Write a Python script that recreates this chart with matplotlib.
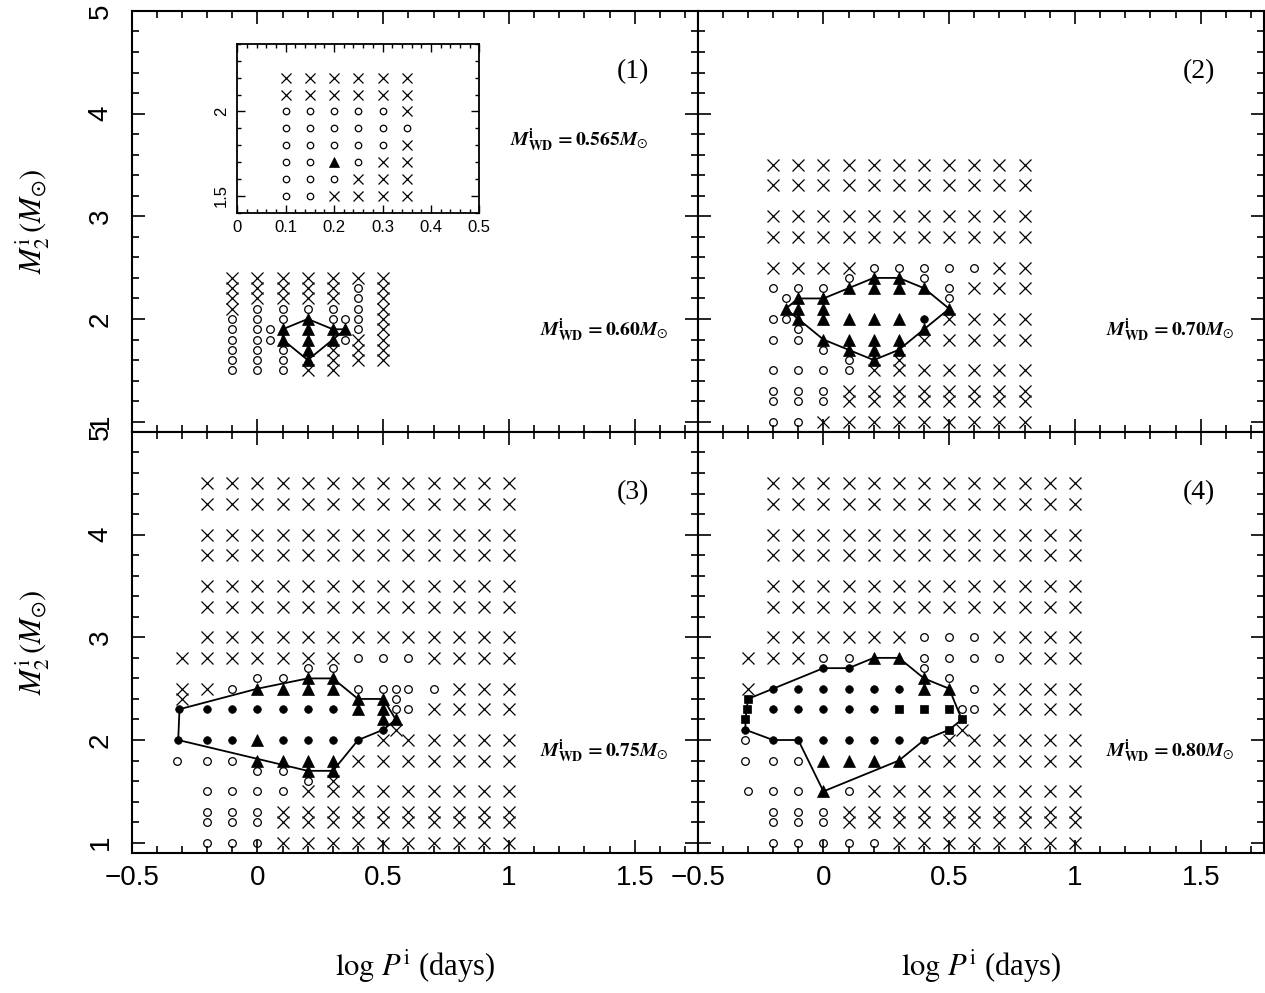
"""Import Statements"""
import matplotlib.pyplot as plt
from matplotlib.ticker import MultipleLocator, FuncFormatter

plt.rcParams["font.family"] = "Liberation Sans"
plt.rcParams["mathtext.fontset"] = "stix"

# Grid codes: x = cross, o = open circle, t = filled triangle,
# d = filled circle, s = filled square, . = no run.
P1_COLS = [-0.1, 0.0, 0.1, 0.2, 0.3, 0.4, 0.5]
P1_ROWS = [(2.4, "xxxxxxx"), (2.3, "xxxxxox"), (2.2, "xxxxxox"),
           (2.1, "xooooox"), (2.0, "oootoox"), (1.9, "ootttox"),
           (1.8, "ootttxx"), (1.7, "oootxxx"), (1.6, "oootxxx"),
           (1.5, "oooxx..")]
P1_EXTRA = [(0.05, 1.9, "o"), (0.05, 1.8, "o"), (0.35, 2.0, "o"),
            (0.35, 1.9, "t"), (0.35, 1.8, "o")]
P1_EDGE = [(0.1, 1.9), (0.2, 2.0), (0.3, 1.9), (0.35, 1.9), (0.3, 1.8),
           (0.2, 1.6), (0.1, 1.8), (0.1, 1.9)]

P2_COLS = [-0.2, -0.1, 0.0, 0.1, 0.2, 0.3, 0.4, 0.5, 0.6, 0.7, 0.8]
P2_ROWS = [(3.5, "xxxxxxxxxxx"), (3.3, "xxxxxxxxxxx"), (3.0, "xxxxxxxxxxx"),
           (2.8, "xxxxxxxxxxx"), (2.5, "xxxxoooooxx"), (2.3, "ooottttoxxx"),
           (2.0, "otttttdxxxx"), (1.8, "oottttxxxxx"), (1.5, "ooooxxxxxxx"),
           (1.3, "oooxxxxxxxx"), (1.2, "oooxxxxxxxx"), (1.0, "ooxxxxxxxxx")]
P2_EXTRA = [(0.1, 2.4, "o"), (0.2, 2.4, "t"), (0.3, 2.4, "t"),
            (0.4, 2.4, "o"), (-0.15, 2.2, "o"), (-0.1, 2.2, "t"),
            (0.0, 2.2, "t"), (0.5, 2.2, "o"), (-0.15, 2.1, "t"),
            (-0.1, 2.1, "t"), (0.0, 2.1, "t"), (0.5, 2.1, "t"),
            (-0.15, 2.0, "o"), (-0.1, 1.9, "o"), (0.4, 1.9, "t"),
            (0.0, 1.7, "o"), (0.1, 1.7, "t"), (0.2, 1.7, "t"),
            (0.3, 1.7, "t"), (0.1, 1.6, "o"), (0.2, 1.6, "t"),
            (0.3, 1.6, "x")]
P2_EDGE = [(-0.15, 2.1), (-0.1, 2.2), (0.0, 2.2), (0.1, 2.3), (0.2, 2.4),
           (0.3, 2.4), (0.4, 2.3), (0.5, 2.1), (0.4, 1.9), (0.3, 1.7),
           (0.2, 1.6), (0.1, 1.7), (0.0, 1.8), (-0.1, 2.0), (-0.15, 2.1)]

P3_COLS = [-0.2, -0.1, 0.0, 0.1, 0.2, 0.3, 0.4, 0.5, 0.6, 0.7, 0.8, 0.9, 1.0]
P3_ROWS = [(4.5, "xxxxxxxxxxxxx"), (4.3, "xxxxxxxxxxxxx"),
           (4.0, "xxxxxxxxxxxxx"), (3.8, "xxxxxxxxxxxxx"),
           (3.5, "xxxxxxxxxxxxx"), (3.3, "xxxxxxxxxxxxx"),
           (3.0, "xxxxxxxxxxxxx"), (2.8, "xxxxxxoooxxxx"),
           (2.5, "xottttooooxxx"), (2.3, "ddddddttoxxxx"),
           (2.0, "ddtddddxxxxxx"), (1.8, "oottttxxxxxxx"),
           (1.5, "ooooxxxxxxxxx"), (1.3, "oooxxxxxxxxxx"),
           (1.2, "oooxxxxxxxxxx"), (1.0, "oooxxxxxxxxxx")]
P3_EXTRA = [(-0.3, 2.8, "x"), (0.2, 2.7, "o"), (0.3, 2.7, "o"),
            (0.0, 2.6, "o"), (0.1, 2.6, "o"), (0.2, 2.6, "t"),
            (0.3, 2.6, "t"), (-0.3, 2.5, "x"), (0.55, 2.5, "o"),
            (-0.3, 2.4, "x"), (0.4, 2.4, "t"), (0.5, 2.4, "t"),
            (0.55, 2.4, "o"), (-0.31, 2.3, "d"), (0.55, 2.3, "o"),
            (0.5, 2.2, "t"), (0.55, 2.2, "t"), (0.5, 2.1, "d"),
            (0.55, 2.1, "x"), (-0.315, 2.0, "d"), (-0.32, 1.8, "o"),
            (0.0, 1.7, "o"), (0.1, 1.7, "o"), (0.2, 1.7, "t"),
            (0.3, 1.7, "t"), (0.2, 1.6, "o"), (0.3, 1.6, "x")]
P3_EDGE = [(-0.31, 2.3), (0.0, 2.5), (0.2, 2.6), (0.3, 2.6), (0.4, 2.4),
           (0.5, 2.4), (0.55, 2.2), (0.5, 2.1), (0.4, 2.0), (0.3, 1.7),
           (0.2, 1.7), (-0.315, 2.0), (-0.31, 2.3)]

P4_COLS = P3_COLS
P4_ROWS = [(4.5, "xxxxxxxxxxxxx"), (4.3, "xxxxxxxxxxxxx"),
           (4.0, "xxxxxxxxxxxxx"), (3.8, "xxxxxxxxxxxxx"),
           (3.5, "xxxxxxxxxxxxx"), (3.3, "xxxxxxxxxxxxx"),
           (3.0, "xxxxxxoooxxxx"), (2.8, "xxoottooooxxx"),
           (2.5, "ddddddttoxxxx"), (2.3, "dddddsssoxxxx"),
           (2.0, "dddddddxxxxxx"), (1.8, "oottttxxxxxxx"),
           (1.5, "ootoxxxxxxxxx"), (1.3, "oooxxxxxxxxxx"),
           (1.2, "oooxxxxxxxxxx"), (1.0, "oooooxxxxxxxx")]
P4_EXTRA = [(-0.3, 2.8, "x"), (0.0, 2.7, "d"), (0.1, 2.7, "d"),
            (0.4, 2.7, "o"), (0.4, 2.6, "t"), (0.5, 2.6, "o"),
            (-0.3, 2.5, "x"), (-0.3, 2.4, "s"), (-0.305, 2.3, "s"),
            (0.55, 2.3, "o"), (-0.31, 2.2, "s"), (0.55, 2.2, "s"),
            (-0.31, 2.1, "d"), (0.5, 2.1, "s"), (0.55, 2.1, "x"),
            (-0.31, 2.0, "o"), (-0.31, 1.8, "o"), (-0.3, 1.5, "o")]
P4_EDGE = [(-0.3, 2.4), (-0.2, 2.5), (0.0, 2.7), (0.1, 2.7), (0.2, 2.8),
           (0.3, 2.8), (0.4, 2.6), (0.5, 2.5), (0.55, 2.2), (0.5, 2.1),
           (0.4, 2.0), (0.3, 1.8), (0.0, 1.5), (-0.1, 2.0), (-0.2, 2.0),
           (-0.31, 2.1), (-0.31, 2.2), (-0.305, 2.3), (-0.3, 2.4)]

# inset of panel 1 (M_WD = 0.565)
INSET_COLS = [0.1, 0.15, 0.2, 0.25, 0.3, 0.35]
INSET_ROWS = [(2.2, "xxxxxx"), (2.1, "xxxxxx"), (2.0, "ooooox"),
              (1.9, "oooooo"), (1.8, "ooooox"), (1.7, "ootoxx"),
              (1.6, "oooxxx"), (1.5, "ooxxxx")]

PANEL_TAGS = ["(1)", "(2)", "(3)", "(4)"]
WD_MASSES = ["0.60", "0.70", "0.75", "0.80"]
INSET_MASS = "0.565"

# marker looks for each code
STYLE = {
    "x": dict(marker="x", ms=8, mew=0.9, mfc="none", mec="black"),
    "o": dict(marker="o", ms=5.5, mew=0.9, mfc="none", mec="black"),
    "t": dict(marker="^", ms=9, mew=0.5, mfc="black", mec="black"),
    "d": dict(marker="o", ms=5.5, mew=0.5, mfc="black", mec="black"),
    "s": dict(marker="s", ms=5.5, mew=0.5, mfc="black", mec="black"),
}


def collect(cols, rows, extra):
    '''
    Split the grid rows and extra runs into x, y lists per marker code.
    '''
    pts = {code: ([], []) for code in STYLE}
    for y_val, codes in rows:
        for x_val, code in zip(cols, codes):
            if code in pts:
                pts[code][0].append(x_val)
                pts[code][1].append(y_val)
    for x_val, y_val, code in extra:
        pts[code][0].append(x_val)
        pts[code][1].append(y_val)
    return pts


def draw_runs(ax, pts, scale=1.0):
    '''
    Plot every marker group on the given axis.
    '''
    for code, (xs, ys) in pts.items():
        if not xs:
            continue
        style = dict(STYLE[code])
        style["ms"] = style["ms"] * scale
        ax.plot(xs, ys, ls="none", zorder=3, clip_on=False, **style)


def fmt(val, pos):
    '''
    Tick label without trailing zeros and with a real minus sign.
    '''
    return ("%g" % val).replace("-", "\u2212")


def setup_axis(ax, show_x, show_y):
    '''
    Limits, ticks and labels shared by the four panels.
    '''
    ax.set_xlim(-0.5, 1.75)
    ax.set_ylim(0.9, 5.0)
    ax.xaxis.set_major_locator(MultipleLocator(0.5))
    ax.xaxis.set_minor_locator(MultipleLocator(0.1))
    ax.yaxis.set_major_locator(MultipleLocator(1))
    ax.yaxis.set_minor_locator(MultipleLocator(0.2))
    ax.xaxis.set_major_formatter(FuncFormatter(fmt))
    ax.yaxis.set_major_formatter(FuncFormatter(fmt))
    ax.tick_params(which="both", direction="in", top=True, right=True,
                   width=1.2, labelsize=20)
    ax.tick_params(which="major", length=9.5)
    ax.tick_params(which="minor", length=4.7)
    ax.tick_params(axis="x", pad=9, labelbottom=show_x)
    ax.tick_params(axis="y", pad=13, labelleft=show_y, labelrotation=90)
    for lab in ax.get_yticklabels():
        lab.set_verticalalignment("center")
    for spine in ax.spines.values():
        spine.set_linewidth(1.5)
    if show_x:
        ax.set_xlabel(r"$\log\,P^{\rm i}$ (days)", fontsize=22,
                      family="Liberation Serif", labelpad=40)
    if show_y:
        ax.set_ylabel(r"$M_2^{\rm i}\,(M_{\odot})$", fontsize=22,
                      family="Liberation Serif", labelpad=26)


def mass_text(ax, x_pos, y_pos, mass):
    '''
    Writes the initial white dwarf mass inside a panel.
    '''
    ax.text(x_pos, y_pos,
            r"$\mathbfit{M}^{\mathbf{i}}_{\mathbf{WD}}\,\mathbf{=%s}"
            r"\mathbfit{M}_{\odot}$" % mass,
            transform=ax.transAxes, fontsize=14, ha="center", va="center")


##################################Main#########################################
fig = plt.figure(figsize=(12.65, 9.93), dpi=100)

left, width = 0.1041, 0.4474
bottom, height = 0.1410, 0.4240
ax1 = fig.add_axes([left, bottom + height, width, height])
ax2 = fig.add_axes([left + width, bottom + height, width, height])
ax3 = fig.add_axes([left, bottom, width, height])
ax4 = fig.add_axes([left + width, bottom, width, height])

panels = [(ax1, P1_COLS, P1_ROWS, P1_EXTRA, P1_EDGE, False, True),
          (ax2, P2_COLS, P2_ROWS, P2_EXTRA, P2_EDGE, False, False),
          (ax3, P3_COLS, P3_ROWS, P3_EXTRA, P3_EDGE, True, True),
          (ax4, P4_COLS, P4_ROWS, P4_EXTRA, P4_EDGE, True, False)]

for i, (ax, cols, rows, extra, edge, sx, sy) in enumerate(panels):
    setup_axis(ax, sx, sy)
    # boundary of the region with filled symbols
    ax.plot([p[0] for p in edge], [p[1] for p in edge], color="black",
            lw=1.3, zorder=2)
    draw_runs(ax, collect(cols, rows, extra))
    ax.text(0.886, 0.855, PANEL_TAGS[i], transform=ax.transAxes,
            fontsize=20, family="Liberation Serif", ha="center",
            va="center")
    mass_text(ax, 0.835, 0.242, WD_MASSES[i])

mass_text(ax1, 0.79, 0.694, INSET_MASS)

# inset with the finer grid for the lighter white dwarf
ins = fig.add_axes([0.1876, 0.7858, 0.1913, 0.1699])
ins.set_xlim(0, 0.5)
ins.set_ylim(1.4, 2.4)
ins.xaxis.set_major_locator(MultipleLocator(0.1))
ins.xaxis.set_minor_locator(MultipleLocator(0.02))
ins.yaxis.set_major_locator(MultipleLocator(0.5))
ins.yaxis.set_minor_locator(MultipleLocator(0.1))
ins.xaxis.set_major_formatter(FuncFormatter(fmt))
ins.yaxis.set_major_formatter(FuncFormatter(fmt))
ins.tick_params(which="both", direction="in", top=True, right=True,
                width=1.0, labelsize=12)
ins.tick_params(which="major", length=6)
ins.tick_params(which="minor", length=3)
ins.tick_params(axis="x", pad=5)
ins.tick_params(axis="y", pad=6, labelrotation=90)
for lab in ins.get_yticklabels():
    lab.set_verticalalignment("center")
for spine in ins.spines.values():
    spine.set_linewidth(1.3)
draw_runs(ins, collect(INSET_COLS, INSET_ROWS, []), scale=0.85)

plt.savefig("out.png", dpi=100)
